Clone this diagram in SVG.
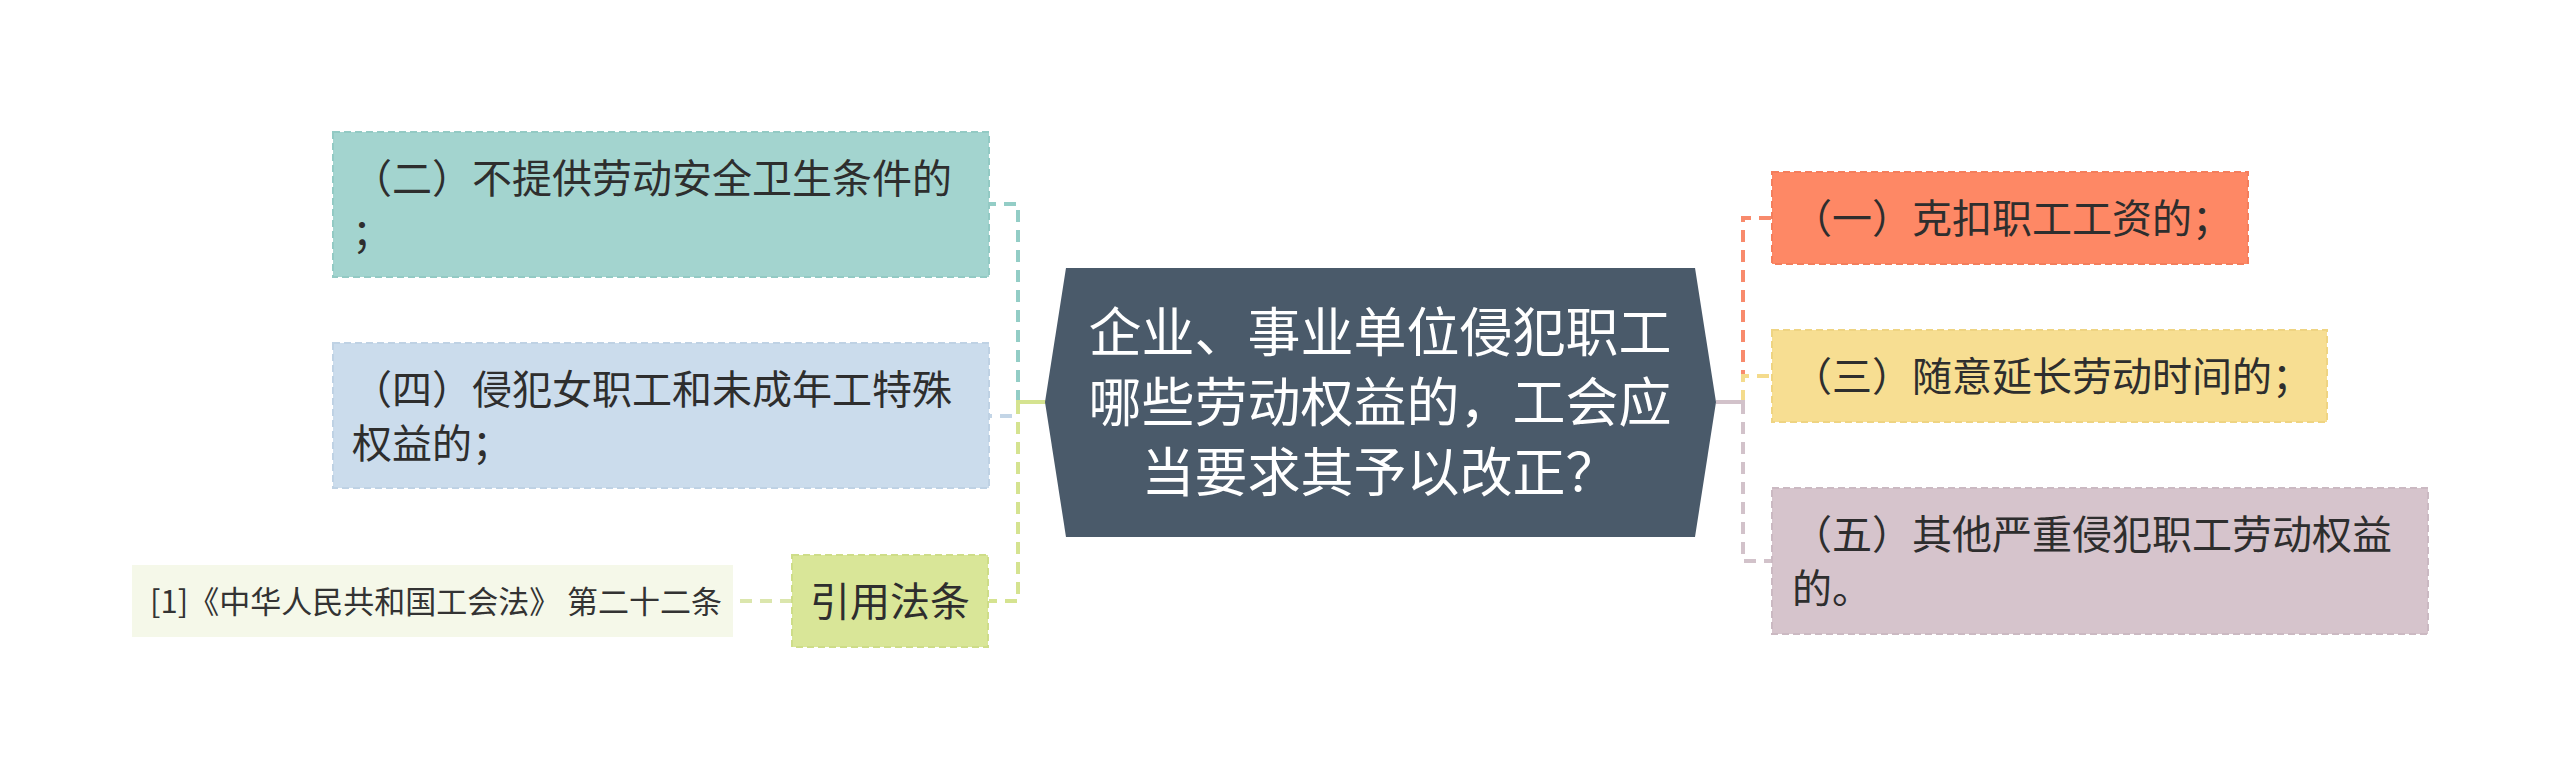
<svg xmlns="http://www.w3.org/2000/svg" width="2560" height="779" viewBox="0 0 2560 779">
<style>
text{font-family:"Noto Sans CJK SC","Noto Sans",sans-serif;}
.t{font-size:40px;fill:#2e2e2e;}
.root{font-size:53px;fill:#ffffff;text-anchor:middle;}
.note{font-size:31px;fill:#333333;}
.box{stroke-width:2;stroke-dasharray:7 4;}
.c{fill:none;stroke-width:4;stroke-dasharray:12 8;}
.stem{fill:none;stroke-width:4;}
</style>
<rect width="2560" height="779" fill="#ffffff"/>
<g id="connectors">
<path class="c" d="M1018,402 V204 H990" stroke="#93cdc6"/>
<path class="c" d="M1018,402 V416 H990" stroke="#c3d5e6"/>
<path class="c" d="M1018,402 V601 H989" stroke="#d5e390"/>
<path class="stem" d="M1046,402 H1016" stroke="#d5e390"/>
<path class="c" d="M792,601 H733" stroke="#dbe6ad"/>
<path class="c" d="M1743,402 V218 H1772" stroke="#f88a6c"/>
<path class="c" d="M1743,402 V376 H1772" stroke="#f4db8c"/>
<path class="c" d="M1743,402 V561 H1772" stroke="#d2c2ca"/>
<path class="stem" d="M1716,402 H1745" stroke="#d2c2ca"/>
</g>
<g id="root">
<polygon points="1066,268 1695,268 1716,402 1695,537 1066,537 1045,402" fill="#4a5a6a"/>
<text class="root" x="1380" y="352">企业、事业单位侵犯职工</text>
<text class="root" x="1380" y="422">哪些劳动权益的，工会应</text>
<text class="root" x="1380" y="492">当要求其予以改正？</text>
</g>
<g id="node-2">
<rect class="box" x="333" y="132" width="656" height="145" fill="#a3d4cf" stroke="#93cac4"/>
<text class="t" x="352" y="193">（二）不提供劳动安全卫生条件的</text>
<text class="t" x="352" y="247">；</text>
</g>
<g id="node-4">
<rect class="box" x="333" y="343" width="656" height="145" fill="#cbdcec" stroke="#bfd2e4"/>
<text class="t" x="352" y="404">（四）侵犯女职工和未成年工特殊</text>
<text class="t" x="352" y="458">权益的；</text>
</g>
<g id="node-cite">
<rect class="box" x="792" y="555" width="196" height="92" fill="#d9e698" stroke="#cedd88"/>
<text class="t" x="890" y="616" text-anchor="middle">引用法条</text>
</g>
<g id="node-note">
<rect x="132" y="565" width="601" height="72" fill="#f5f8e9"/>
<text class="note" x="150" y="613">[1]《中华人民共和国工会法》 第二十二条</text>
</g>
<g id="node-1">
<rect class="box" x="1772" y="172" width="476" height="92" fill="#fe8865" stroke="#f47e5c"/>
<text class="t" x="1792" y="233">（一）克扣职工工资的；</text>
</g>
<g id="node-3">
<rect class="box" x="1772" y="330" width="555" height="92" fill="#f7de92" stroke="#efd482"/>
<text class="t" x="1792" y="391">（三）随意延长劳动时间的；</text>
</g>
<g id="node-5">
<rect class="box" x="1772" y="488" width="656" height="146" fill="#d6c4cc" stroke="#cbb9c2"/>
<text class="t" x="1792" y="549">（五）其他严重侵犯职工劳动权益</text>
<text class="t" x="1792" y="603">的。</text>
</g>
</svg>
